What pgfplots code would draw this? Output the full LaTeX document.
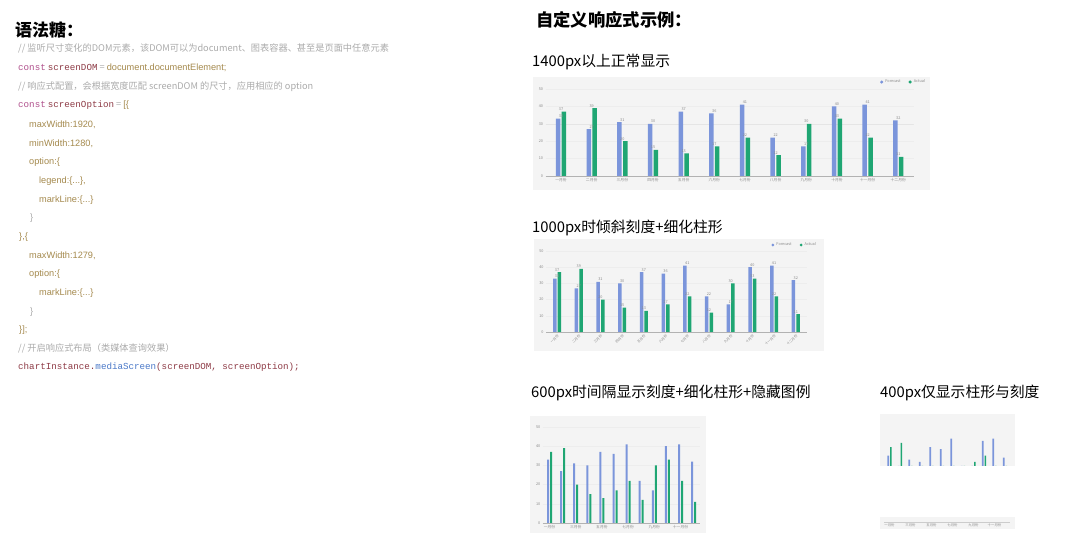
\documentclass[border=0pt]{standalone}
\usepackage{fontspec}
\usepackage{pgfplots}
\pgfplotsset{compat=1.18}
\usepackage{pgfplotstable}
\setmainfont{Noto Sans CJK SC}
\newfontfamily\codemono{Liberation Mono}
\newfontfamily\codesans{Liberation Sans}

\definecolor{ebar}{HTML}{7B95DB}
\definecolor{agreen}{HTML}{1FA673}
\definecolor{panel}{HTML}{F4F4F4}
\definecolor{cmt}{HTML}{ABABAB}
\definecolor{kw}{HTML}{B0508C}
\definecolor{idf}{HTML}{8E3B46}
\definecolor{prop}{HTML}{A58A4E}
\definecolor{fn}{HTML}{4A78C8}
\definecolor{tick}{HTML}{8A8A8A}

% monthly values: forecast (blue) and actual (green)
\pgfplotstableread{
idx forecast actual
0  33 37
1  27 39
2  31 20
3  30 15
4  37 13
5  36 17
6  41 22
7  22 12
8  17 30
9  40 33
10 41 22
11 32 11
}\rain

\newcommand{\tinyf}{\fontsize{3.8}{4}\selectfont}
\newcommand{\codef}{\fontsize{9.2}{11}\selectfont}

\pgfplotsset{
  rainaxis/.style={
    scale only axis, anchor=south west,
    xmin=-0.5, xmax=11.5,
    axis x line*=bottom, axis y line*=left,
    y axis line style={draw=none},
    x axis line style={draw=black!30, line width=0.4pt},
    ytick style={draw=none},
    xtick style={draw=black!30, line width=0.3pt},
    tick align=outside, major tick length=1.5pt,
    ymajorgrids, grid style={draw=black!7, line width=0.3pt},
    tick label style={text=tick, font=\tinyf, inner sep=1pt},
    /pgf/number format/assume math mode=true,
    xtick={0,...,11},
    xticklabels={一月份,二月份,三月份,四月份,五月份,六月份,七月份,八月份,九月份,十月份,十一月份,十二月份},
    legend style={draw=none, fill=none, font=\tinyf, text=tick,
      legend columns=2, anchor=west,
      /tikz/every even column/.append style={column sep=6pt}},
    nodes near coords style={font=\tinyf, text=tick, inner sep=0.8pt},
  },
}

\begin{document}
\begin{tikzpicture}[x=1pt, y=1pt]
\useasboundingbox (0,0) rectangle (1080,538);
\fill[white] (0,0) rectangle (1080,538);

% ---------------- left: code ----------------
\node[anchor=west, inner sep=0, font=\fontsize{17}{20}\selectfont\bfseries] at (15,508) {语法糖：};

\begin{scope}[every node/.style={anchor=west, inner sep=0, font=\codef}]
\node[text=cmt] at (18,490) {// 监听尺寸变化的DOM元素，该DOM可以为document、图表容器、甚至是页面中任意元素};
\node at (18,470.5) {{\codemono\color{kw}const} {\codemono\color{idf}screenDOM} {\color{cmt}=} {\codesans\color{prop}document.documentElement;}};
\node[text=cmt] at (18,451.5) {// 响应式配置，会根据宽度匹配 screenDOM 的尺寸，应用相应的 option};
\node at (18,432.5) {{\codemono\color{kw}const} {\codemono\color{idf}screenOption} {\color{cmt}=} {\codesans\color{prop}[\{}};
\node[text=prop] at (29,413.5) {\codesans maxWidth:1920,};
\node[text=prop] at (29,394.5) {\codesans minWidth:1280,};
\node[text=prop] at (29,376) {\codesans option:\{};
\node[text=prop] at (39,357) {\codesans legend:\{...\},};
\node[text=prop] at (39,338) {\codesans markLine:\{...\}};
\node[text=cmt] at (30,320) {\codesans \}};
\node[text=prop] at (19,301) {\codesans \},\{};
\node[text=prop] at (29,282) {\codesans maxWidth:1279,};
\node[text=prop] at (29,264) {\codesans option:\{};
\node[text=prop] at (39,245) {\codesans markLine:\{...\}};
\node[text=cmt] at (30,226) {\codesans \}};
\node[text=prop] at (19,208) {\codesans \}];};
\node[text=cmt] at (18,190) {// 开启响应式布局（类媒体查询效果）};
\node at (18,171) {{\codemono\color{idf}chartInstance.}{\codemono\color{fn}mediaScreen}{\codemono\color{idf}(screenDOM, screenOption);}};
\end{scope}

% ---------------- right: headings ----------------
\node[anchor=west, inner sep=0, font=\fontsize{17.3}{20}\selectfont\bfseries] at (536,518) {自定义响应式示例：};
\begin{scope}[every node/.style={anchor=west, inner sep=0, font=\fontsize{14.8}{17}\selectfont}]
\node at (532,476) {1400px以上正常显示};
\node at (532,310) {1000px时倾斜刻度+细化柱形};
\node at (531,145) {600px时间隔显示刻度+细化柱形+隐藏图例};
\node at (880,145) {400px仅显示柱形与刻度};
\end{scope}

% panels
\fill[panel] (533,348) rectangle (930,461);
\fill[panel] (534,187) rectangle (824,299);
\fill[panel] (530,5) rectangle (706,122);
\fill[panel] (880,72) rectangle (1015,124);
\fill[panel] (880,9) rectangle (1015,21);

% ---------------- chart 1: 1400px ----------------
\begin{axis}[rainaxis,
  at={(545.7pt,362pt)}, width=367.9pt, height=87pt,
  ymin=0, ymax=50, ytick={0,10,...,50},
  legend style={at={(axis description cs:0.9,1.08)}},
]
\addplot[black!10, line width=0.4pt] coordinates {(-0.5,30) (11.5,30)};
\addplot[ybar, bar width=4.5pt, bar shift=-2.9pt, fill=ebar, draw=none, nodes near coords,
  legend image code/.code={\fill[ebar] (1pt,0pt) circle (1.7pt);}]
  table[x=idx, y=forecast] {\rain};
\addplot[ybar, bar width=4.5pt, bar shift=2.9pt, fill=agreen, draw=none, nodes near coords,
  legend image code/.code={\fill[agreen] (1pt,0pt) circle (1.7pt);}]
  table[x=idx, y=actual] {\rain};
\legend{,Forecast, Actual}
\node[anchor=west, inner sep=0, font=\tinyf, text=tick] at (axis description cs:-0.016,1.09) {降水量(ml)};
\node[anchor=west, inner sep=0, font=\tinyf, text=tick] at (axis description cs:1.01,-0.02) {月份};
\end{axis}

% ---------------- chart 2: 1000px ----------------
\begin{axis}[rainaxis,
  at={(546.2pt,206pt)}, width=260.4pt, height=81pt,
  ymin=0, ymax=50, ytick={0,10,...,50},
  xticklabel style={rotate=45, anchor=north east, inner sep=0.4pt, font=\fontsize{3.4}{4}\selectfont},
  legend style={at={(axis description cs:0.852,1.074)}},
]
\addplot[ybar, bar width=3.5pt, bar shift=-2.3pt, fill=ebar, draw=none, nodes near coords,
  legend image code/.code={\fill[ebar] (1pt,0pt) circle (1.6pt);}]
  table[x=idx, y=forecast] {\rain};
\addplot[ybar, bar width=3.5pt, bar shift=2.3pt, fill=agreen, draw=none, nodes near coords,
  legend image code/.code={\fill[agreen] (1pt,0pt) circle (1.6pt);}]
  table[x=idx, y=actual] {\rain};
\legend{Forecast, Actual}
\node[anchor=west, inner sep=0, font=\tinyf, text=tick] at (axis description cs:-0.024,1.1) {降水量(ml)};
\node[anchor=west, inner sep=0, font=\tinyf, text=tick] at (axis description cs:1.02,0) {月份};
\end{axis}

% ---------------- chart 3: 600px ----------------
\begin{axis}[rainaxis,
  at={(542.95pt,15pt)}, width=157.2pt, height=96pt,
  ymin=0, ymax=50, ytick={0,10,...,50},
  xtick={0,2,...,10},
  xticklabels={一月份,三月份,五月份,七月份,九月份,十一月份},
]
\addplot[ybar, bar width=2pt, bar shift=-1.5pt, fill=ebar, draw=none]
  table[x=idx, y=forecast] {\rain};
\addplot[ybar, bar width=2pt, bar shift=1.5pt, fill=agreen, draw=none]
  table[x=idx, y=actual] {\rain};
\node[anchor=west, inner sep=0, font=\tinyf, text=tick] at (axis description cs:-0.05,1.07) {降水量(ml)};
\end{axis}

% ---------------- chart 4: 400px (bars only) ----------------
\begin{axis}[scale only axis, anchor=south west,
  at={(884.25pt,72pt)}, width=126pt, height=52pt,
  xmin=-0.5, xmax=11.5, ymin=28, ymax=52.8,
  axis lines=none, ticks=none,
]
\addplot[ybar, bar width=1.6pt, bar shift=-1.3pt, fill=ebar, draw=none]
  table[x=idx, y=forecast] {\rain};
\addplot[ybar, bar width=1.6pt, bar shift=1.3pt, fill=agreen, draw=none]
  table[x=idx, y=actual] {\rain};
\end{axis}

% chart 4 tick strip
\begin{axis}[scale only axis, anchor=south west,
  at={(884.25pt,16pt)}, width=126pt, height=1pt,
  xmin=-0.5, xmax=11.5, ymin=0, ymax=1,
  axis x line*=bottom, axis y line=none,
  x axis line style={draw=black!20, line width=0.3pt},
  xtick={0,2,...,10},
  xticklabels={一月份,三月份,五月份,七月份,九月份,十一月份},
  xtick style={draw=black!30, line width=0.3pt},
  tick align=outside, major tick length=1pt,
  tick label style={text=tick, font=\fontsize{3.4}{4}\selectfont, inner sep=0.8pt},
]
\end{axis}
\end{tikzpicture}
\end{document}
